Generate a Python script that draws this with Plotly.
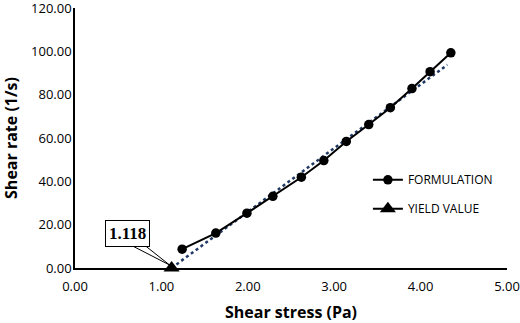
import plotly.graph_objects as go

# Data
shear_stress = [1.24, 1.63, 1.99, 2.29, 2.62, 2.88, 3.14, 3.40, 3.65, 3.90, 4.11, 4.35]
shear_rate = [8.7, 16.1, 25.3, 33.1, 41.9, 49.6, 58.4, 66.2, 74.0, 82.8, 90.6, 99.3]
yield_x = [1.118]
yield_y = [0.0]
trend_x = [1.118, 4.31]
trend_y = [0.0, 93.8]
x_ticks = [0, 1, 2, 3, 4, 5]
y_ticks = [0, 20, 40, 60, 80, 100, 120]

FONT = "Open Sans"

fig = go.Figure()
fig.add_trace(go.Scatter(
    x=trend_x, y=trend_y, mode="lines", showlegend=False,
    line=dict(color="#1f3864", width=2.5, dash="dot"), hoverinfo="skip"))
fig.add_trace(go.Scatter(
    x=shear_stress, y=shear_rate, mode="lines+markers", name="FORMULATION",
    legendgroup="a",
    line=dict(color="black", width=2),
    marker=dict(symbol="circle", size=9.5, color="black")))
fig.add_trace(go.Scatter(
    x=yield_x, y=yield_y, mode="lines+markers", name="YIELD VALUE",
    legendgroup="b",
    line=dict(color="black", width=2),
    marker=dict(symbol="triangle-up", size=14, color="black"),
    cliponaxis=False))

# callout wedge anchored at the yield point (pixel offsets)
fig.add_shape(type="path", xref="x", yref="y",
              xsizemode="pixel", ysizemode="pixel",
              xanchor=yield_x[0], yanchor=yield_y[0],
              path="M -39 22 L -2 3 L -26 22 Z",
              line=dict(color="black", width=1), fillcolor="white", layer="above")

fig.add_annotation(x=yield_x[0], y=yield_y[0], xref="x", yref="y",
                   text="<b>%.3f</b>" % yield_x[0],
                   showarrow=True, arrowcolor="rgba(0,0,0,0)", arrowhead=0,
                   ax=-44, ay=-35,
                   font=dict(family="Liberation Serif", size=17, color="black"),
                   bordercolor="black", borderwidth=1, borderpad=3, bgcolor="white")

fig.update_xaxes(range=[0, 5], tickvals=x_ticks,
                 ticktext=["%.2f" % v for v in x_ticks],
                 showline=True, linecolor="black", linewidth=1.5,
                 showgrid=False, zeroline=False, ticks="", ticklen=0,
                 automargin=False, ticklabeloverflow="allow",
                 ticklabelstandoff=6,
                 tickfont=dict(family=FONT, size=13, color="black"),
                 title=dict(text="<b>Shear stress (Pa)</b>", standoff=18,
                            font=dict(family=FONT, size=16, color="black")))
fig.update_yaxes(range=[0, 120], tickvals=y_ticks,
                 ticktext=["%.2f" % v for v in y_ticks],
                 showline=True, linecolor="black", linewidth=1.5,
                 showgrid=False, zeroline=False, ticks="", ticklen=0,
                 automargin=False, ticklabeloverflow="allow",
                 ticklabelstandoff=-1,
                 tickfont=dict(family=FONT, size=13, color="black"),
                 title=dict(text="<b>Shear rate (1/s)</b>", standoff=14,
                            font=dict(family=FONT, size=16, color="black")))

fig.update_layout(
    width=520, height=323,
    margin=dict(l=75, r=13, t=8, b=55),
    plot_bgcolor="white", paper_bgcolor="white",
    legend=dict(x=0.678, y=0.395, xanchor="left", yanchor="top",
                traceorder="grouped", tracegroupgap=10,
                font=dict(family=FONT, size=12, color="black"),
                bgcolor="rgba(0,0,0,0)"),
)

fig.write_html("out.html", config={"displayModeBar": False},
               post_script="document.body.style.margin='0';document.body.style.overflow='hidden';")
